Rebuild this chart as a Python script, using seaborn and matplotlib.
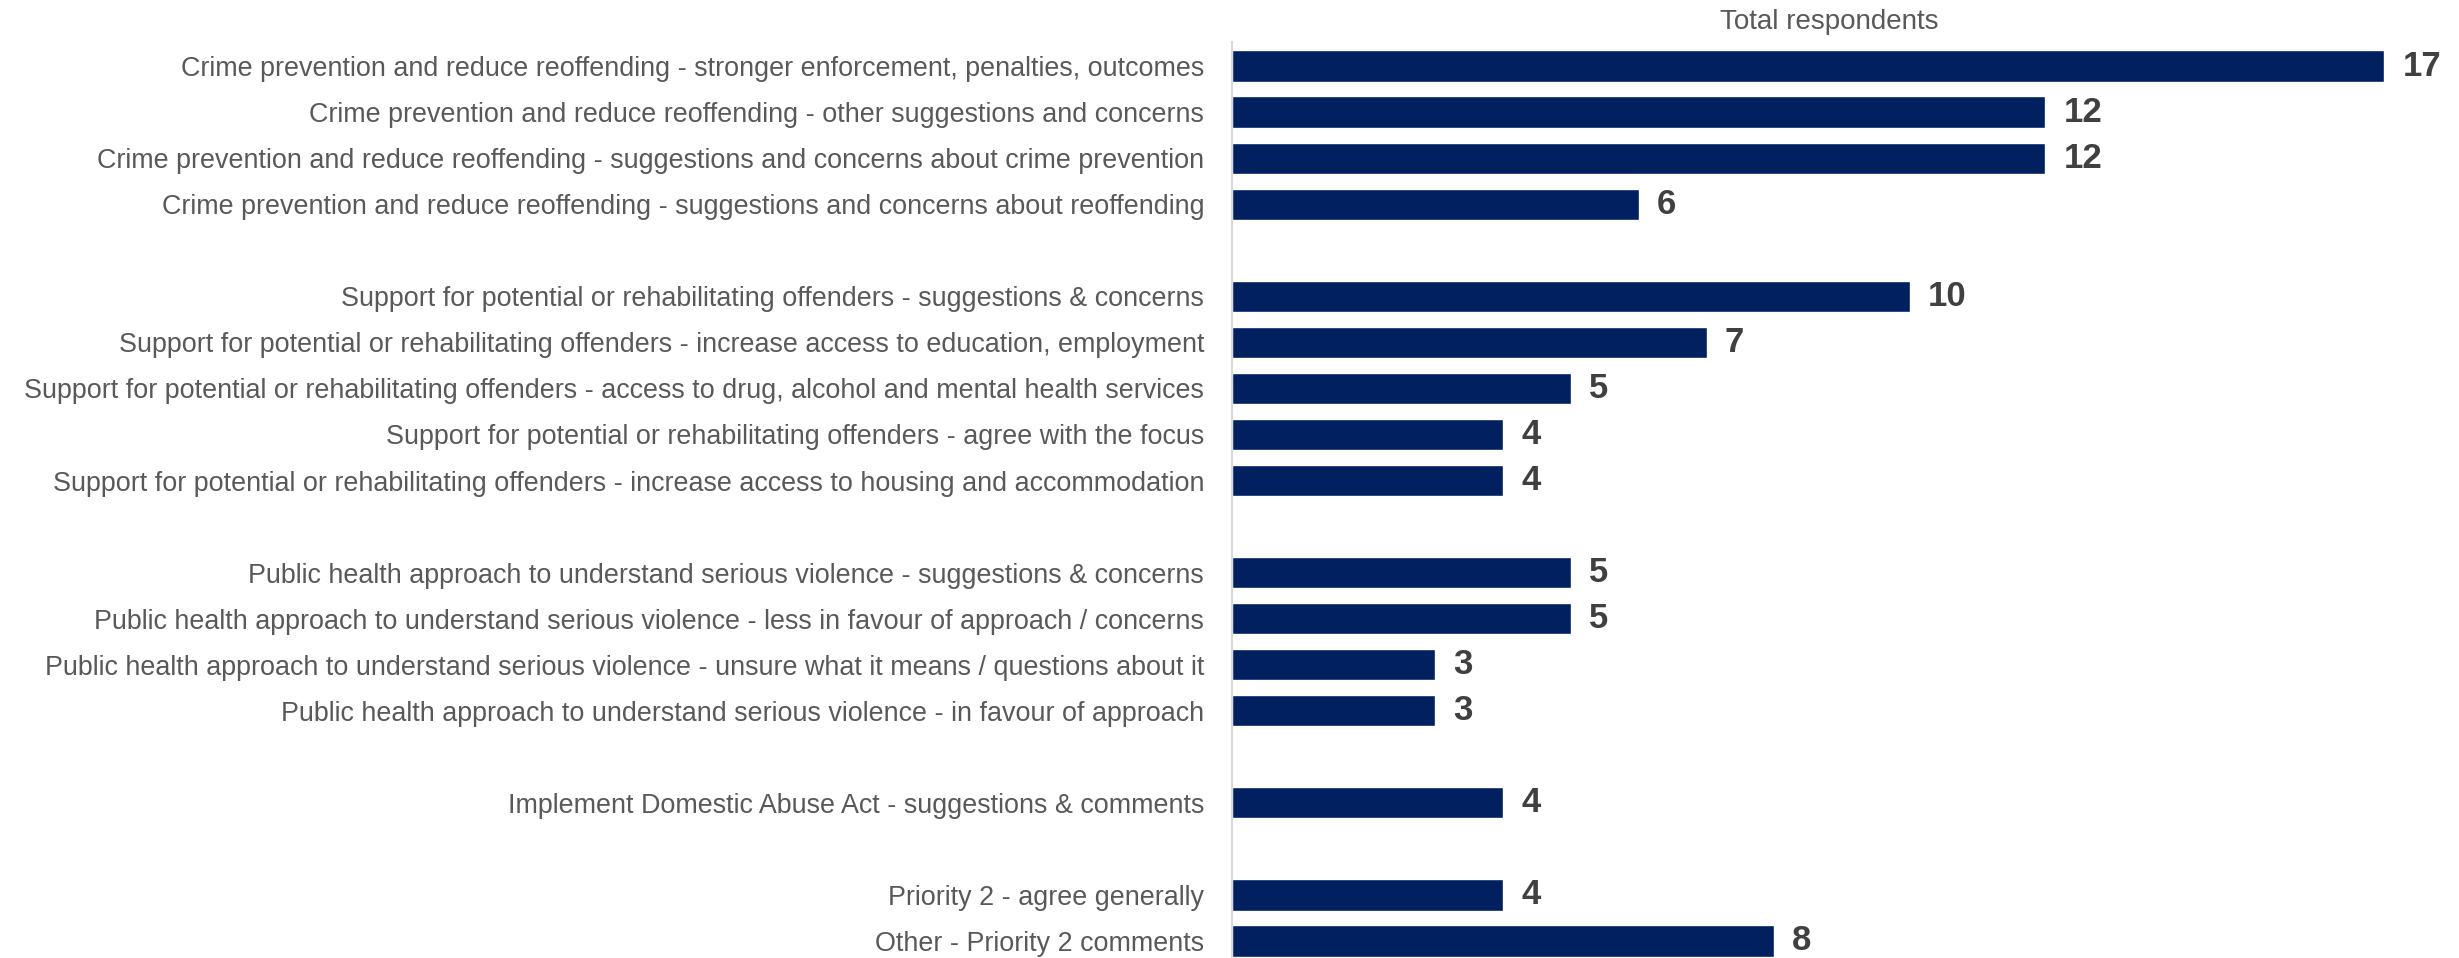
#!/usr/bin/env python3
"""
Horizontal bar chart: Priority 2 themes by total respondents.
"""
import pandas as pd
import matplotlib
matplotlib.use('Agg')
import matplotlib.pyplot as plt
import seaborn as sns

sns.set_theme(style='white')
plt.rcParams['font.family'] = ['Liberation Sans', 'DejaVu Sans']

# Data (blank strings of different length are spacer rows between groups)
categories = [
    "Crime prevention and reduce reoffending - stronger enforcement, penalties, outcomes",
    "Crime prevention and reduce reoffending - other suggestions and concerns",
    "Crime prevention and reduce reoffending - suggestions and concerns about crime prevention",
    "Crime prevention and reduce reoffending - suggestions and concerns about reoffending",
    " ",
    "Support for potential or rehabilitating offenders - suggestions & concerns",
    "Support for potential or rehabilitating offenders - increase access to education, employment",
    "Support for potential or rehabilitating offenders - access to drug, alcohol and mental health services",
    "Support for potential or rehabilitating offenders - agree with the focus",
    "Support for potential or rehabilitating offenders - increase access to housing and accommodation",
    "  ",
    "Public health approach to understand serious violence - suggestions & concerns",
    "Public health approach to understand serious violence - less in favour of approach / concerns",
    "Public health approach to understand serious violence - unsure what it means / questions about it",
    "Public health approach to understand serious violence - in favour of approach",
    "   ",
    "Implement Domestic Abuse Act - suggestions & comments",
    "    ",
    "Priority 2 - agree generally",
    "Other - Priority 2 comments",
]
respondents = [17, 12, 12, 6, 0, 10, 7, 5, 4, 4, 0, 5, 5, 3, 3, 0, 4, 0, 4, 8]

BAR_COLOR = '#002060'
LABEL_COLOR = '#595959'
VALUE_COLOR = '#404040'


def main():
    df = pd.DataFrame({'category': categories, 'respondents': respondents})

    fig = plt.figure(figsize=(24.59, 9.58), dpi=100)
    ax = fig.add_axes([0.501, 0.0, 0.499, 0.956])

    sns.barplot(data=df, x='respondents', y='category', order=categories,
                color=BAR_COLOR, saturation=1, width=0.68, ax=ax)

    # value labels
    for i, (cat, val) in enumerate(zip(categories, respondents)):
        if cat.strip() == '':
            continue
        ax.annotate(str(val), xy=(val, i), xytext=(13, 0), textcoords='offset points',
                    ha='left', va='center', fontsize=25, fontweight='bold',
                    color=VALUE_COLOR)

    ax.set_xlim(0, 18.1)
    ax.set_ylim(len(categories) - 1 + 0.37, -0.52)
    ax.set_xlabel('')
    ax.set_ylabel('')
    ax.set_xticks([])
    ax.tick_params(axis='y', length=0, pad=20, labelsize=19.4, labelcolor=LABEL_COLOR)

    for side in ['top', 'right', 'bottom']:
        ax.spines[side].set_visible(False)
    ax.spines['left'].set_color('#D9D9D9')
    ax.spines['left'].set_linewidth(1.5)

    fig.text(0.744, 0.977, 'Total respondents', ha='center', va='center',
             fontsize=20, color=LABEL_COLOR)

    fig.savefig('out.png', dpi=100)
    plt.close(fig)


if __name__ == "__main__":
    main()
